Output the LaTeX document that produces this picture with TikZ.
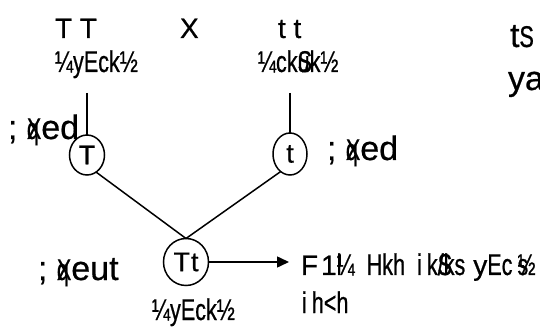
\documentclass[tikz,border=0pt]{standalone}
\usepackage{fontspec}
\usetikzlibrary{arrows.meta,shapes.geometric}
\newfontfamily\widefont{Liberation Sans}[FakeBold=0.6]
\newfontfamily\narrowfont{Liberation Sans}[FakeStretch=0.72,FakeBold=0.6]
% two glyphs printed on top of each other
\newcommand\ov[2]{\rlap{#1}#2}
\newcommand\nar{\narrowfont\fontsize{30}{32}\selectfont}
\newcommand\wid{\widefont\fontsize{28}{30}\selectfont}
\begin{document}
\begin{tikzpicture}[x=1pt,y=-1pt,
  every node/.style={inner sep=0pt, outer sep=0pt},
  gen/.style={font=\wid, anchor=base west},
  lbl/.style={font=\nar, anchor=base west},
  gam/.style={font=\widefont\fontsize{34}{36}\selectfont, anchor=base west},
  plant/.style={draw, ellipse, line width=1.5pt, inner sep=0pt,
                font=\widefont\fontsize{27}{29}\selectfont},
  link/.style={line width=1.5pt},
]
\useasboundingbox (0,0) rectangle (540,336);

% parent genotypes
\node[gen] (pTT) at (55,38) {T T};
\node[gen] (pX)  at (180,38) {X};
\node[gen] (ptt) at (278,38) {t t};
\node[lbl] (hTT) at (55,72) {¼yEck½};
\node[lbl] (htt) at (258,72) {¼ck\ov{S}uk½};

% gametes
\node[plant, minimum width=35pt, minimum height=40pt] (T) at (87,155) {T};
\node[plant, minimum width=34pt, minimum height=42pt] (t) at (290,154) {t};
\node[gam] (gL) at (8,139) {; {\nar\ov{q}X}ed};
\node[gam] (gR) at (327,160) {; {\nar\ov{q}X}ed};

% zygote
\node[plant, minimum width=45pt, minimum height=47pt] (Tt) at (186,262) {T\kern1pt t};
\node[gam] (gz) at (38,280) {; {\nar\ov{q}X}eut};
\node[lbl] (hTt) at (152,320) {¼yEck½};

% F1 generation
\node[gen] (f1) at (301,275)
  {F\kern3pt 1{\nar\ov{l}¼\hspace{6pt} Hkh\hspace{6pt} i\,k\ov{S}/ks\hspace{2pt} {\wid y}Ec\,\ov{s}½}};
\node[lbl] (f1b) at (302,313) {i\,h<h};

% heading at the right edge
\node[gam] (hd1) at (510,47) {t{\nar S}};
\node[gam] (hd2) at (508,90) {ya};

% connectors
\coordinate (hTTfoot) at (87,93);
\coordinate (httfoot) at (290,93);
\draw[link] (hTTfoot) -- (T.north);
\draw[link] (httfoot) -- (t.north);
\draw[link] (T.-62) -- (Tt.north);
\draw[link] (t.-118) -- (Tt.north);
\draw[link, -{Triangle[length=12pt,width=11pt]}, shorten >=12pt]
  (Tt.east) -- (Tt.east -| f1.west);
\end{tikzpicture}
\end{document}
